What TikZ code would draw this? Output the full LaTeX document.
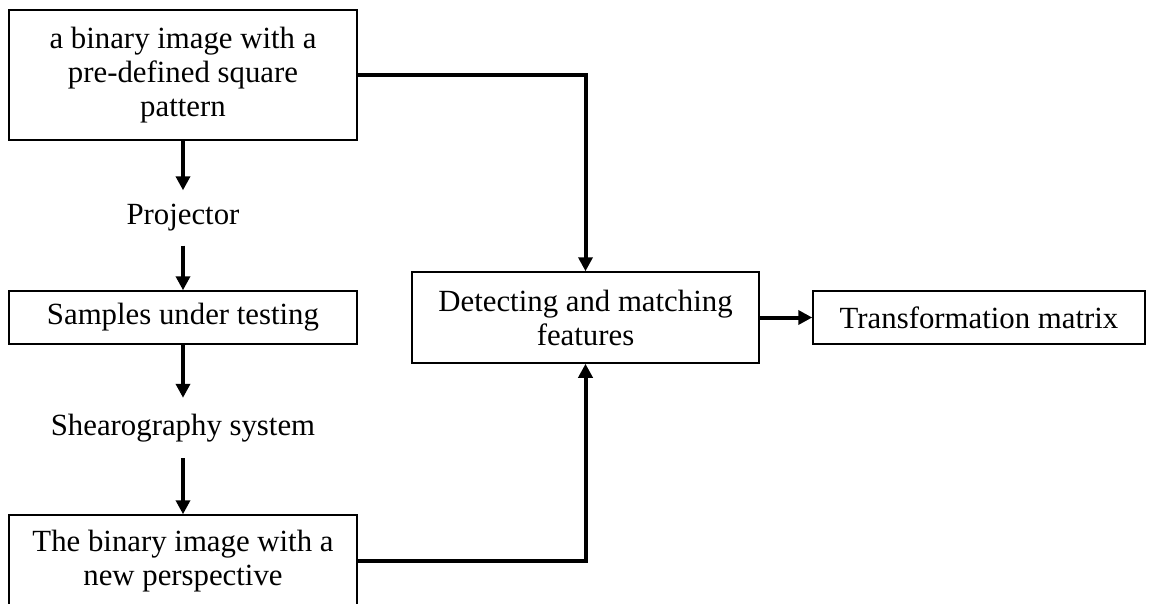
\documentclass[tikz,border=0pt]{standalone}
\usepackage{fontspec}
\setmainfont{Liberation Serif}
\usetikzlibrary{arrows.meta}
\begin{document}
\begin{tikzpicture}[x=1pt,y=-1pt,
  every node/.style={font=\fontsize{30.8}{34}\selectfont, align=center, inner sep=0pt},
  flowbox/.style={draw, line width=1.5pt, fill=white},
  steplabel/.style={minimum height=55pt},
  flowarrow/.style={line width=4pt, -{Triangle[length=14pt,width=14pt]}}]
  \useasboundingbox (0,0) rectangle (1154,603);
  % boxes
  \node[flowbox, minimum width=348pt, minimum height=130pt] (pattern) at (183,75)
    {a binary image with a\\pre-defined square\\pattern};
  \node[steplabel] (proj) at (183,218) {Projector};
  \node[flowbox, minimum width=348pt, minimum height=53pt] (samples) at (183,317.5)
    {Samples under testing};
  \node[minimum height=60pt] (shear) at (183,428) {Shearography system};
  \node[flowbox, minimum width=348pt, minimum height=92pt] (newimg) at (183,561)
    {The binary image with a\\new perspective};
  \node[flowbox, minimum width=347pt, minimum height=91pt] (detect) at (585.5,317.5)
    {Detecting and matching\\features};
  \node[flowbox, minimum width=332pt, minimum height=53pt] (trans) at (979,317.5)
    {Transformation matrix};
  % connectors
  \draw[flowarrow] (pattern.south) -- (proj.north);
  \draw[flowarrow] (proj.south) -- (samples.north);
  \draw[flowarrow] (samples.south) -- (shear.north);
  \draw[flowarrow] (shear.south) -- (newimg.north);
  \draw[flowarrow] (pattern.east) -| (detect.north);
  \draw[flowarrow] (newimg.east) -| (detect.south);
  \draw[flowarrow] (detect.east) -- (trans.west);
\end{tikzpicture}
\end{document}
